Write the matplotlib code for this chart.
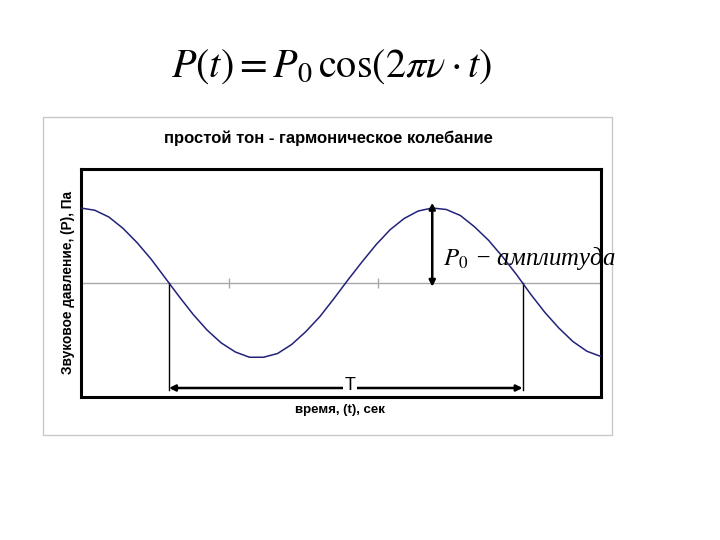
import matplotlib
matplotlib.use("Agg")
import matplotlib.pyplot as plt
from matplotlib.patches import Rectangle
import numpy as np

plt.rcParams['mathtext.fontset'] = 'stix'

# time points (sec) and sound pressure values
t_values = [0.00, 0.25, 0.50, 0.75, 1.00, 1.25, 1.50, 1.75, 2.00, 2.25,
            2.50, 2.75, 3.00, 3.25, 3.50, 3.75, 4.00, 4.25, 4.50, 4.75,
            5.00, 5.25, 5.50, 5.75, 6.00, 6.25, 6.50, 6.75, 7.00, 7.25,
            7.50, 7.75, 8.00, 8.25, 8.50, 8.75, 9.00, 9.25]
p_values = [1.00, 0.97, 0.88, 0.73, 0.54, 0.32, 0.07, -0.18, -0.42, -0.63,
            -0.80, -0.92, -0.99, -0.99, -0.94, -0.82, -0.65, -0.45, -0.21, 0.04,
            0.28, 0.51, 0.71, 0.86, 0.96, 1.00, 0.98, 0.90, 0.75, 0.57,
            0.35, 0.11, -0.15, -0.39, -0.60, -0.78, -0.91, -0.98]
axis_ticks = [2.64, 5.29]

title = "простой тон - гармоническое колебание"
x_label = "время, (t), сек"
y_label = "Звуковое давление, (P), Па"

t = np.array(t_values)
p = np.array(p_values)

fig = plt.figure(figsize=(7.2, 5.4), dpi=100)

# formula above the chart
fig.text(0.46, 0.878, r"$P(t) = P_0\,\cos(2\pi\nu \cdot t)$", fontsize=29,
         ha="center", va="center")

# chart area frame
fig.patches.append(Rectangle((43 / 720, 1 - 435 / 540), 569 / 720, 318 / 540,
                             transform=fig.transFigure, facecolor="white",
                             edgecolor="#c8c8c8", lw=1, zorder=-5))

fig.text(0.456, 1 - 138 / 540, title, fontsize=12, fontweight="bold",
         family="Liberation Sans", ha="center", va="center")
fig.text(0.472, 1 - 410 / 540, x_label, fontsize=9.5, fontweight="bold",
         family="Liberation Sans", ha="center", va="center")
fig.text(0.094, 1 - 283 / 540, y_label, fontsize=9.8, fontweight="bold",
         family="Liberation Sans", ha="center", va="center", rotation=90)

ax = fig.add_axes([80.7 / 720, 1 - 397 / 540, 520.3 / 720, 228 / 540])
ax.set_facecolor("none")
ax.set_xlim(t[0], t[-1])
ax.set_ylim(-1.52, 1.52)
ax.set_xticks([])
ax.set_yticks([])
for s in ax.spines.values():
    s.set_linewidth(2.2)
    s.set_color("black")

ax.axhline(0, color="#a8a8a8", lw=1, zorder=1)
ax.plot(axis_ticks, [0] * len(axis_ticks), linestyle="none", marker="|",
        ms=7, mew=1, color="#a8a8a8", zorder=1)

ax.plot(t, p, color="#22227a", lw=1.1, zorder=3)

# zero crossings (downward) found from the data
cross = []
for i in range(len(p) - 1):
    if p[i] > 0 >= p[i + 1]:
        cross.append(t[i] + (t[i + 1] - t[i]) * p[i] / (p[i] - p[i + 1]))
t1, t2 = cross[0], cross[1]
y_arrow = -1.40
for tc in (t1, t2):
    ax.plot([tc, tc], [0, -1.43], color="black", lw=1, zorder=2)
ax.annotate("", xy=(t1, y_arrow), xytext=(t2, y_arrow),
            arrowprops=dict(arrowstyle="<|-|>", color="black", lw=1.8,
                            mutation_scale=9, shrinkA=0, shrinkB=0))
ax.text((t1 + t2) / 2 + 0.08, y_arrow - 0.02, "T", fontsize=13,
        family="Liberation Sans", ha="center", va="baseline", zorder=4,
        bbox=dict(facecolor="white", edgecolor="none", pad=1.2))

# amplitude arrow at the second peak
k = len(p) - 1 - int(np.argmax(p[::-1]))
ax.annotate("", xy=(t[k], 1.07), xytext=(t[k], -0.05),
            arrowprops=dict(arrowstyle="<|-|>", color="black", lw=1.8,
                            mutation_scale=9, shrinkA=0, shrinkB=0))

fig.text(443 / 720, 1 - 259 / 540, r"$P_0$ − амплитуда", fontsize=17.8,
         family="Liberation Serif", style="italic", ha="left", va="center")

fig.savefig("out.png", dpi=100, facecolor="white")
